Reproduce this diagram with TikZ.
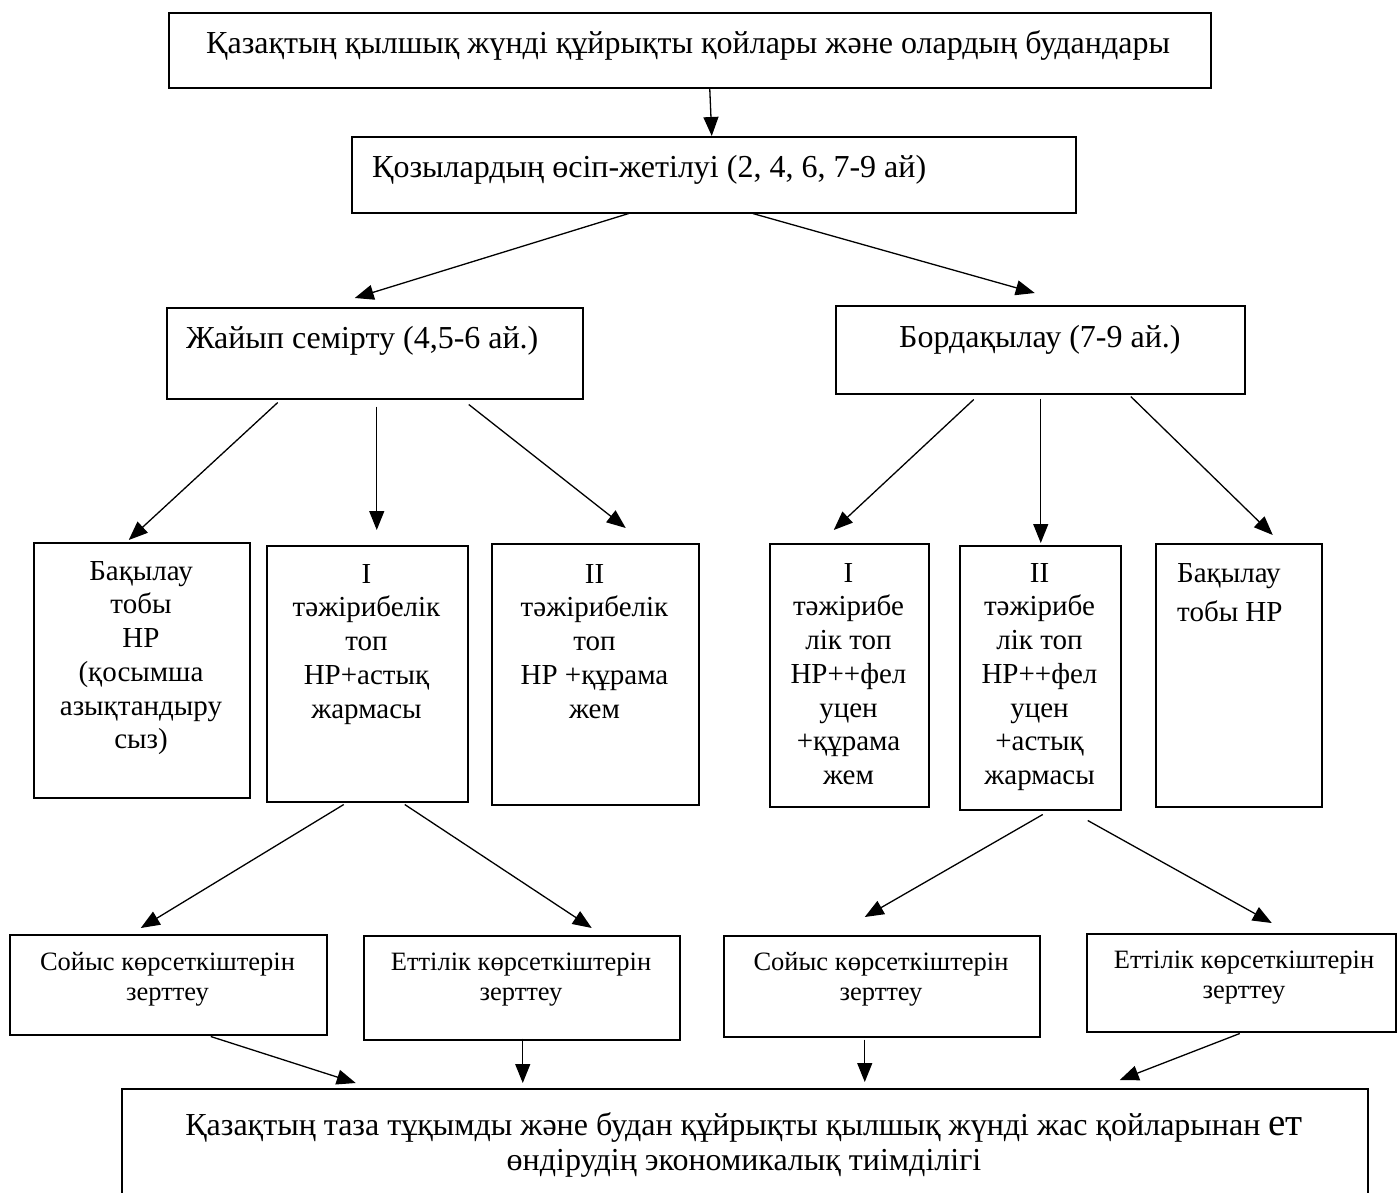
\documentclass[tikz,border=0pt]{standalone}
\usepackage{fontspec}
\setmainfont{Liberation Serif}
\usetikzlibrary{arrows.meta}
\tikzset{
  bx/.style={draw, rectangle, line width=1.5pt, inner sep=0pt, anchor=north west},
  arr/.style={-{Triangle[length=19pt,width=15pt]}, line width=1.3pt},
  tbig/.style={font=\fontsize{32}{35}\selectfont, inner sep=0pt},
  tmid/.style={font=\fontsize{29}{33.7}\selectfont, inner sep=0pt, align=center, anchor=north},
  tsml/.style={font=\fontsize{26.5}{30}\selectfont, inner sep=0pt, align=center, anchor=north}
}
\newcommand\mkbox[5]{\node[bx, minimum width={#4-#2}, minimum height={#5-#3}] (#1) at (#2,#3) {};}
\begin{document}
\begin{tikzpicture}[x=1pt,y=-1pt]
\useasboundingbox (0,0) rectangle (1397,1192);
% boxes
\mkbox{top}{168}{12}{1210}{87}
\mkbox{grow}{351}{136}{1075}{212}
\mkbox{jay}{166}{307}{582}{398}
\mkbox{bord}{835}{305}{1244}{393}
\mkbox{La}{33}{542}{249}{797}
\mkbox{Lb}{266}{545}{467}{801}
\mkbox{Lc}{491}{543}{698}{804}
\mkbox{Ra}{769}{543}{928}{806}
\mkbox{Rb}{959}{545}{1120}{809}
\mkbox{Rc}{1155}{543}{1321}{806}
\mkbox{Sa}{9}{934}{326}{1034}
\mkbox{Ea}{363}{935}{679}{1039}
\mkbox{Sb}{723}{935}{1039}{1036}
\mkbox{Eb}{1086}{933}{1395}{1031}
\mkbox{bot}{121}{1088}{1367}{1205}
% texts
\node[tbig, anchor=base west] (topt) at (206,53) {Қазақтың қылшық жүнді құйрықты қойлары және олардың будандары};
\node[tbig, anchor=base west] (growt) at (372,177) {Қозылардың өсіп-жетілуі (2, 4, 6, 7-9 ай)};
\node[tbig, anchor=base west] (jayt) at (186,348) {Жайып семірту (4,5-6 ай.)};
\node[tbig, anchor=base west] (bordt) at (899,347) {Бордақылау (7-9 ай.)};
\node[tmid] (Lat) at (141,561) {Бақылау\\тобы\\НР\\(қосымша\\азықтандыру\\сыз)};
\node[tmid] (Lbt) at (366.5,564) {I\\тәжірибелік\\топ\\НР+астық\\жармасы};
\node[tmid] (Lct) at (594.5,564) {II\\тәжірибелік\\топ\\НР +құрама\\жем};
\node[tmid] (Rat) at (848.5,563) {I\\тәжірибе\\лік топ\\НР++фел\\уцен\\+құрама\\жем};
\node[tmid] (Rbt) at (1039.5,563) {II\\тәжірибе\\лік топ\\НР++фел\\уцен\\+астық\\жармасы};
\node[tmid, anchor=north west, align=left, font=\fontsize{29}{39}\selectfont] (Rct) at (1177,563) {Бақылау\\тобы НР};
\node[tsml] (Sat) at (167.5,952.5) {Сойыс көрсеткіштерін\\зерттеу};
\node[tsml] (Eat) at (521,952.5) {Еттілік көрсеткіштерін\\зерттеу};
\node[tsml] (Sbt) at (881,952.5) {Сойыс көрсеткіштерін\\зерттеу};
\node[tsml] (Ebt) at (1244,950.5) {Еттілік көрсеткіштерін\\зерттеу};
\node[tbig, align=center, anchor=north] (bott) at (744,1112) {Қазақтың таза тұқымды және будан құйрықты қылшық жүнді жас қойларынан {\fontsize{39}{35}\selectfont ет}\\өндірудің экономикалық тиімділігі};
% arrows
\draw[arr] ([xshift=20pt]top.south) -- ([xshift=-2pt]grow.north);
\draw[arr] ([xshift=-85pt]grow.south) -- ([xshift=-20pt,yshift=9pt]jay.north);
\draw[arr] ([xshift=39pt]grow.south) -- ([xshift=-5.5pt,yshift=12pt]bord.north);
\draw[arr] ([xshift=-97pt,yshift=-3pt]jay.south) -- ([xshift=-13pt,yshift=2pt]La.north);
\draw[arr] ([xshift=2pt,yshift=-7pt]jay.south) -- ([xshift=9.5pt,yshift=15pt]Lb.north);
\draw[arr] ([xshift=94pt,yshift=-5pt]jay.south) -- ([xshift=30.5pt,yshift=15pt]Lc.north);
\draw[arr] ([xshift=-66.5pt,yshift=-5pt]bord.south) -- ([xshift=-15.5pt,yshift=13pt]Ra.north);
\draw[arr] ([xshift=0.5pt,yshift=-4pt]bord.south) -- ([xshift=0.5pt,yshift=2pt]Rb.north);
\draw[arr] ([xshift=90.5pt,yshift=-2pt]bord.south) -- ([xshift=34pt,yshift=8pt]Rc.north);
\draw[arr] ([xshift=-23.5pt,yshift=-2pt]Lb.south) -- ([xshift=-27.5pt,yshift=6pt]Sa.north);
\draw[arr] ([xshift=37.5pt,yshift=-2pt]Lb.south) -- ([xshift=70pt,yshift=7pt]Ea.north);
\draw[arr] ([xshift=2.5pt,yshift=-4pt]Rb.south) -- ([xshift=-17pt,yshift=18pt]Sb.north);
\draw[arr] ([xshift=47.5pt,yshift=-10pt]Rb.south) -- ([xshift=30.5pt,yshift=10pt]Eb.north);
\draw[arr] ([xshift=42.5pt,yshift=-1pt]Sa.south) -- ([xshift=-389pt,yshift=5pt]bot.north);
\draw[arr] ([xshift=1pt,yshift=2pt]Ea.south) -- ([xshift=-222pt,yshift=5pt]bot.north);
\draw[arr] ([xshift=-17pt,yshift=-2pt]Sb.south) -- ([xshift=120pt,yshift=6pt]bot.north);
\draw[arr] ([xshift=-1.5pt,yshift=-1pt]Eb.south) -- ([xshift=375pt,yshift=8pt]bot.north);
\end{tikzpicture}
\end{document}
